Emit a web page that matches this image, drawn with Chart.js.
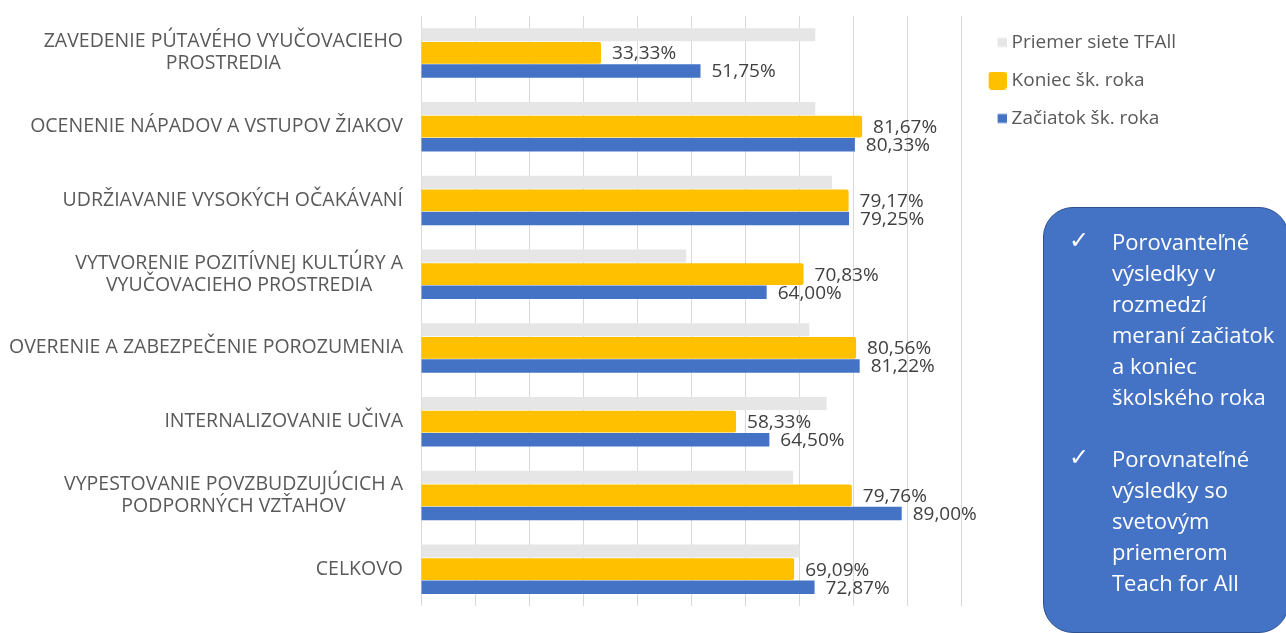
<!DOCTYPE html>
<html>
<head>
<meta charset="utf-8">
<script src="https://cdn.jsdelivr.net/npm/chart.js@4.4.1/dist/chart.umd.min.js"></script>
<style>
html, body { margin: 0; padding: 0; background: #fff; }
#wrap { position: relative; width: 1286px; height: 633px; overflow: hidden; }
#chart { position: absolute; left: 0; top: 0; }
.note {
    position: absolute; left: 1043px; top: 207px; width: 246px; height: 426px;
    box-sizing: border-box; background: #4472C4; border: 1.5px solid #2F528F;
    border-radius: 30px; color: #fff; font-family: "Open Sans", sans-serif;
    font-size: 22px; line-height: 31px; padding: 18px 0 0 0;
}
.note .item { position: relative; padding-left: 68px; margin-bottom: 31px; white-space: nowrap; }
.note .tick { position: absolute; left: 25px; top: -1px; font-family: "DejaVu Sans"; font-size: 24px; }
</style>
</head>
<body>
<div id="wrap">
    <canvas id="chart" width="1286" height="633"></canvas>
    <div class="note">
        <div class="item"><span class="tick">✓</span>Porovanteľné<br>výsledky v<br>rozmedzí<br>meraní začiatok<br>a koniec<br>školského roka</div>
        <div class="item"><span class="tick">✓</span>Porovnateľné<br>výsledky so<br>svetovým<br>priemerom<br>Teach for All</div>
    </div>
</div>
<script>
const categories = [
    ['ZAVEDENIE PÚTAVÉHO VYUČOVACIEHO', 'PROSTREDIA'],
    'OCENENIE NÁPADOV A VSTUPOV ŽIAKOV',
    'UDRŽIAVANIE VYSOKÝCH OČAKÁVANÍ',
    ['VYTVORENIE POZITÍVNEJ KULTÚRY A', 'VYUČOVACIEHO PROSTREDIA'],
    'OVERENIE A ZABEZPEČENIE POROZUMENIA',
    'INTERNALIZOVANIE UČIVA',
    ['VYPESTOVANIE POVZBUDZUJÚCICH A', 'PODPORNÝCH VZŤAHOV'],
    'CELKOVO'
];
const seriesNames = ['Priemer siete TFAll', 'Koniec šk. roka', 'Začiatok šk. roka'];
const networkAvg = [73.0, 73.0, 76.1, 49.1, 71.9, 75.1, 68.9, 70.1]; // estimated, no labels
const endOfYear = [33.33, 81.67, 79.17, 70.83, 80.56, 58.33, 79.76, 69.09];
const startOfYear = [51.75, 80.33, 79.25, 64.00, 81.22, 64.50, 89.00, 72.87];
const xMin = 0, xMax = 100, xStep = 10;

const GRAY = '#E7E6E6', YELLOW = '#FFC000', BLUE = '#4472C4';

// legend swatches: square sits at the right end of a wider transparent canvas
function swatch(size, color, radius) {
    const c = document.createElement('canvas');
    c.width = 31; c.height = 18;
    const g = c.getContext('2d');
    g.fillStyle = color;
    g.beginPath();
    g.roundRect(31 - size, (18 - size) / 2, size, size, radius);
    g.fill();
    return c;
}
const swatches = [swatch(9, GRAY, 0), swatch(18, YELLOW, 3), swatch(9, BLUE, 0)];

// category labels: block right aligned to the axis, lines centered in the block
const yLabels = {
    id: 'yLabels',
    afterDraw(chart) {
        const scale = chart.scales.y;
        const ctx = chart.ctx;
        const lineH = 22;
        ctx.save();
        ctx.font = '19.5px "Open Sans"';
        ctx.fillStyle = '#595959';
        ctx.textAlign = 'center';
        ctx.textBaseline = 'middle';
        const right = scale.right - 18;
        categories.forEach((lab, i) => {
            const lines = Array.isArray(lab) ? lab : [lab];
            const w = Math.max(...lines.map(l => ctx.measureText(l).width));
            const y0 = scale.getPixelForTick(i) - (lines.length - 1) * lineH / 2;
            lines.forEach((l, j) => ctx.fillText(l, right - w / 2, y0 + j * lineH));
        });
        ctx.restore();
    }
};

// value labels for the yellow and blue bars
const valueLabels = {
    id: 'valueLabels',
    afterDatasetsDraw(chart) {
        const ctx = chart.ctx;
        ctx.save();
        ctx.font = '19px "Open Sans"';
        ctx.fillStyle = '#404040';
        ctx.textAlign = 'left';
        ctx.textBaseline = 'middle';
        [1, 2].forEach(di => {
            chart.getDatasetMeta(di).data.forEach((bar, i) => {
                const v = chart.data.datasets[di].data[i];
                ctx.fillText(v.toFixed(2).replace('.', ',') + '%', bar.x + 11, bar.y + 1);
            });
        });
        ctx.restore();
    }
};

new Chart(document.getElementById('chart'), {
    type: 'bar',
    data: {
        labels: categories,
        datasets: [{
            label: seriesNames[0],
            data: networkAvg,
            backgroundColor: GRAY,
            barPercentage: 0.72
        }, {
            label: seriesNames[1],
            data: endOfYear,
            backgroundColor: YELLOW,
            borderRadius: 2,
            borderSkipped: 'start',
            barPercentage: 1.2
        }, {
            label: seriesNames[2],
            data: startOfYear,
            backgroundColor: BLUE,
            barPercentage: 0.75
        }]
    },
    options: {
        indexAxis: 'y',
        responsive: false,
        animation: false,
        categoryPercentage: 0.734,
        layout: { padding: { top: 14, bottom: 27, left: 0, right: 100 } },
        plugins: {
            tooltip: { enabled: false },
            legend: {
                position: 'right',
                align: 'start',
                labels: {
                    usePointStyle: true,
                    pointStyleWidth: 22,
                    padding: 19,
                    color: '#595959',
                    font: { family: 'Open Sans', size: 19 },
                    generateLabels: (chart) => chart.data.datasets.map((ds, i) => ({
                        text: ds.label,
                        pointStyle: swatches[i],
                        fillStyle: ds.backgroundColor,
                        strokeStyle: ds.backgroundColor,
                        lineWidth: 0,
                        fontColor: '#595959',
                        hidden: false,
                        datasetIndex: i
                    }))
                }
            }
        },
        scales: {
            x: {
                position: 'top',
                min: xMin,
                max: xMax,
                ticks: { stepSize: xStep, display: false },
                grid: { color: '#D9D9D9', drawTicks: false },
                border: { display: false },
                afterFit: (s) => { s.height = 2; }
            },
            y: {
                offset: true,
                ticks: { display: false },
                grid: { display: false },
                border: { display: false },
                afterFit: (s) => { s.width = 421; }
            }
        }
    },
    plugins: [yLabels, valueLabels]
});
</script>
</body>
</html>
